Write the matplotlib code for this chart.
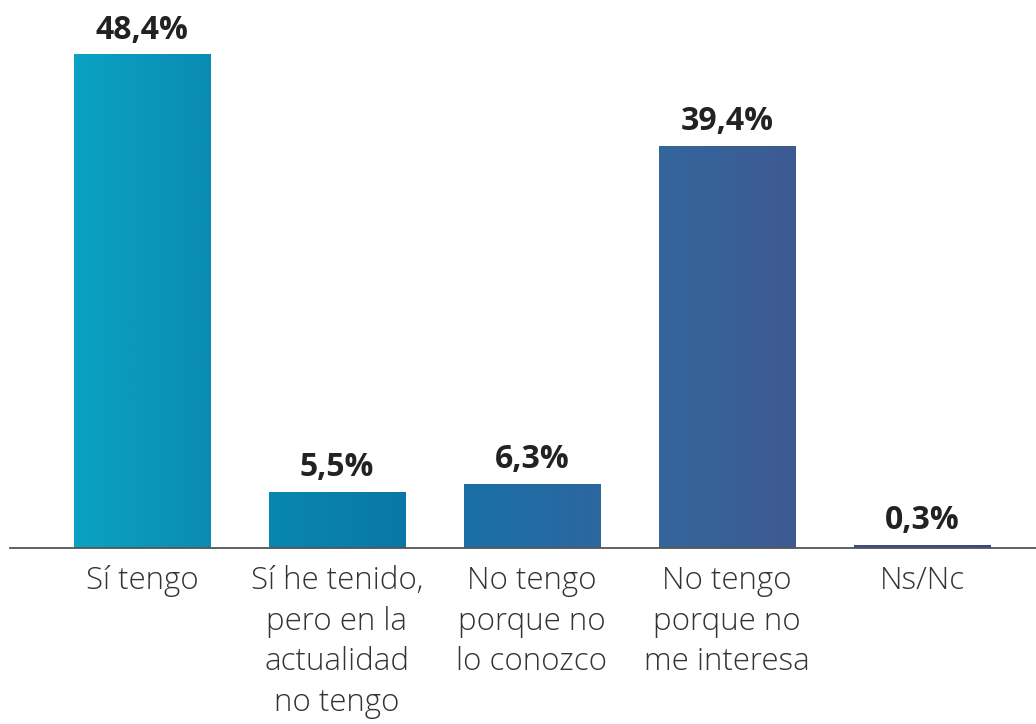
import numpy as np
import matplotlib.pyplot as plt
from matplotlib.colors import LinearSegmentedColormap

categories = ["Sí tengo", "Sí he tenido,\npero en la\nactualidad\nno tengo",
              "No tengo\nporque no\nlo conozco", "No tengo\nporque no\nme interesa", "Ns/Nc"]
values = [48.4, 5.5, 6.3, 39.4, 0.3]
value_labels = ["48,4%", "5,5%", "6,3%", "39,4%", "0,3%"]

plt.rcParams['font.family'] = ['Open Sans', 'DejaVu Sans']

fig = plt.figure(figsize=(10.36, 7.24), dpi=100)
ax = fig.add_axes([10 / 1036, 176 / 724, 1026 / 1036, 510 / 724])

x = np.arange(len(values))
xmin, xmax = -132 / 195, (1036 - 142) / 195
bars = ax.bar(x, values, width=0.70, color='none', edgecolor='none')

# one horizontal gradient across the whole chart, clipped to each bar
stops = [(0.0, "#0ea6c4"), (0.063, "#0aa2c2"), (0.195, "#0a8cb2"), (0.25, "#0887b0"),
         (0.383, "#0a78a6"), (0.44, "#1a70a7"), (0.573, "#2c67a0"), (0.632, "#33669c"),
         (0.765, "#3e5a92"), (0.82, "#3e4f8c"), (0.952, "#3c4787"), (1.0, "#3c4686")]
cmap = LinearSegmentedColormap.from_list("grad", stops)
grad = np.linspace(0, 1, 512).reshape(1, -1)
for b in bars:
    im = ax.imshow(grad, cmap=cmap, aspect='auto', extent=[xmin, xmax, 0, 50],
                   interpolation='bilinear', zorder=2)
    im.set_clip_path(b)

for xi, v, lab in zip(x, values, value_labels):
    ax.text(xi, v + 1.55, lab, ha='center', va='baseline', fontsize=23,
            fontweight='bold', color='#222222')

ax.set_xlim(xmin, xmax)
ax.set_ylim(0, 50)
ax.set_xticks(x)
ax.set_xticklabels(categories, fontsize=22.5, color='#333333', linespacing=1.37,
                   fontweight='light')
ax.tick_params(axis='x', length=0, pad=12)
ax.set_yticks([])
for s in ['top', 'right', 'left']:
    ax.spines[s].set_visible(False)
ax.spines['bottom'].set_color('#555555')
ax.spines['bottom'].set_linewidth(1.3)
ax.spines['bottom'].set_zorder(3)

fig.savefig("out.png", dpi=100)
